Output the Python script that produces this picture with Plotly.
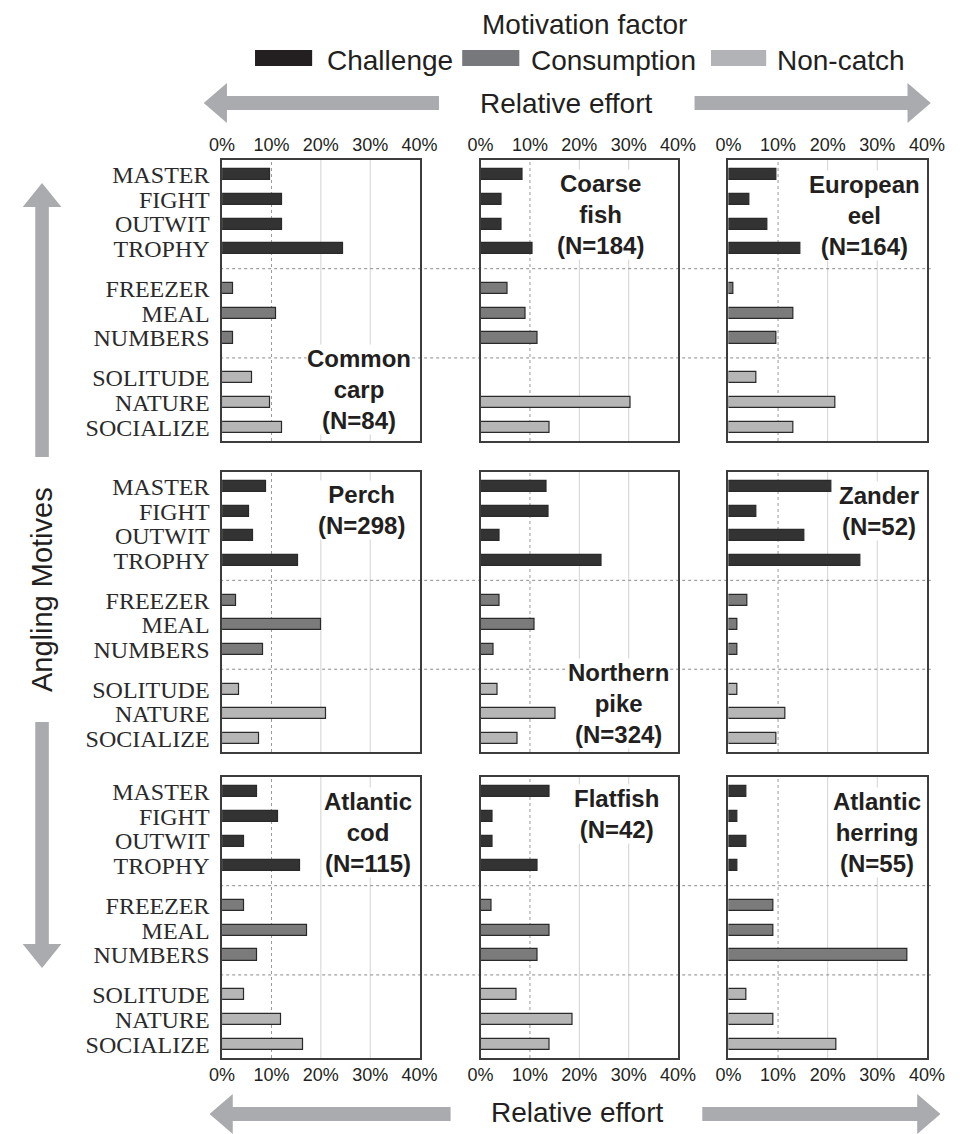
import plotly.graph_objects as go

# ---------------- data ----------------
motives = ["MASTER", "FIGHT", "OUTWIT", "TROPHY",
           "FREEZER", "MEAL", "NUMBERS",
           "SOLITUDE", "NATURE", "SOCIALIZE"]
motive_group = [0, 0, 0, 0, 1, 1, 1, 2, 2, 2]
factors = ["Challenge", "Consumption", "Non-catch"]
x_ticks = [0, 10, 20, 30, 40]
x_ticklabels = ["0%", "10%", "20%", "30%", "40%"]

species = ["Common<br>carp<br>(N=84)", "Coarse<br>fish<br>(N=184)", "European<br>eel<br>(N=164)",
           "Perch<br>(N=298)", "Northern<br>pike<br>(N=324)", "Zander<br>(N=52)",
           "Atlantic<br>cod<br>(N=115)", "Flatfish<br>(N=42)", "Atlantic<br>herring<br>(N=55)"]

common_carp      = [9.7, 12.1, 12.1, 24.5, 2.3, 11.0, 2.3, 6.1, 9.7, 12.1]
coarse_fish      = [8.6, 4.3, 4.3, 10.6, 5.4, 9.2, 11.6, 0.0, 30.3, 13.9]
european_eel     = [9.7, 4.2, 7.8, 14.6, 1.1, 13.2, 9.7, 5.6, 21.6, 13.2]
perch            = [8.9, 5.4, 6.3, 15.4, 2.8, 20.1, 8.3, 3.4, 21.1, 7.5]
northern_pike    = [13.3, 13.7, 3.9, 24.5, 3.8, 10.9, 2.7, 3.4, 15.2, 7.5]
zander           = [20.8, 5.6, 15.3, 26.6, 3.8, 1.8, 1.8, 1.8, 11.4, 9.6]
atlantic_cod     = [7.0, 11.3, 4.4, 15.7, 4.4, 17.2, 7.0, 4.4, 12.0, 16.5]
flatfish         = [14.0, 2.4, 2.4, 11.6, 2.3, 13.9, 11.6, 7.3, 18.7, 14.0]
atlantic_herring = [3.7, 1.9, 3.7, 1.9, 9.0, 9.0, 36.1, 3.7, 9.0, 21.7]

panel_values = [common_carp, coarse_fish, european_eel,
                perch, northern_pike, zander,
                atlantic_cod, flatfish, atlantic_herring]

# ---------------- styling / layout ----------------
W, H = 972, 1134
TXT = "#231f20"
bar_colors = {"Challenge": "#333333", "Consumption": "#7b7b7b", "Non-catch": "#b6b6b6"}
legend_colors = {"Challenge": "#231f20", "Consumption": "#77787b", "Non-catch": "#b1b3b6"}
ARROW = "#a9abae"
SANS = "Liberation Sans, Arial, sans-serif"
SERIF = "Liberation Serif, Times New Roman, serif"

col_px = [(216, 420), (483, 687), (739, 944)]
row_px = [(160, 441), (472, 752), (777, 1058)]
GAP = 0.62
ypos = [i + GAP * g for i, g in enumerate(motive_group)]
sep_pos = [(ypos[3] + ypos[4]) / 2, (ypos[6] + ypos[7]) / 2]
y_range = [ypos[-1] + 0.56, -0.6]

label_px = [(357, 389), (607, 214), (880, 215),
            (360, 510), (625, 703), (895, 511),
            (367, 832), (623, 814), (892, 832)]


def px(x):
    return x / W


def py(y):
    return 1 - y / H


def text_ann(x, y, text, size=28, xanchor="center", **kw):
    return dict(x=px(x), y=py(y), xref="paper", yref="paper", text=text, showarrow=False,
                xanchor=xanchor, yanchor="middle", font=dict(family=SANS, size=size, color=TXT), **kw)


fig = go.Figure()
layout = dict(width=W, height=H, margin=dict(l=0, r=0, t=0, b=0),
              plot_bgcolor="white", paper_bgcolor="white", showlegend=False,
              bargap=0)
shapes = []
annotations = []

for p in range(9):
    r, c = divmod(p, 3)
    idx = "" if p == 0 else str(p + 1)
    xa, ya = "x" + idx, "y" + idx
    vals = panel_values[p]
    for fi, f in enumerate(factors):
        sel = [k for k in range(len(motives)) if motive_group[k] == fi]
        fig.add_trace(go.Bar(
            x=[vals[k] for k in sel], y=[ypos[k] for k in sel], orientation="h",
            width=0.45, marker=dict(color=bar_colors[f], line=dict(color="#2a2a2a", width=1.2)),
            xaxis=xa, yaxis=ya, name=f, hoverinfo="x"))
    x0, x1 = col_px[c]
    y0, y1 = row_px[r]
    xaxis = dict(domain=[px(x0), px(x1)], range=[0, 40], anchor=ya,
                 tickvals=x_ticks, ticktext=x_ticklabels, showgrid=False, zeroline=False,
                 showline=True, linecolor="#3c3c3c", linewidth=1.5, mirror=True, ticks="",
                 tickfont=dict(family=SANS, size=18, color=TXT), fixedrange=True)
    if r == 0:
        xaxis.update(side="top", showticklabels=True)
    elif r == 2:
        xaxis.update(side="bottom", showticklabels=True)
    else:
        xaxis.update(showticklabels=False)
    yaxis = dict(domain=[py(y1), py(y0)], range=y_range, anchor=xa,
                 tickvals=ypos, ticktext=motives, showgrid=False, zeroline=False,
                 showline=True, linecolor="#3c3c3c", linewidth=1.5, mirror=True, ticks="",
                 showticklabels=(c == 0), ticklabelstandoff=6,
                 tickfont=dict(family=SERIF, size=24, color="#2a2a2a"), fixedrange=True)
    layout["xaxis" + idx] = xaxis
    layout["yaxis" + idx] = yaxis
    # vertical grid lines: 10% dotted, 20/30% solid light
    for gv in x_ticks[1:-1]:
        shapes.append(dict(type="line", xref=xa, yref=ya + " domain", x0=gv, x1=gv, y0=0, y1=1,
                           layer="below",
                           line=dict(color="#9a9a9a" if gv == 10 else "#d2d2d2", width=1,
                                     dash="dot" if gv == 10 else "solid")))
    # species label
    lx, ly = label_px[p]
    annotations.append(dict(x=px(lx), y=py(ly), xref="paper", yref="paper", text="<b>" + species[p] + "</b>",
                            showarrow=False, xanchor="center", yanchor="middle", bgcolor="white",
                            font=dict(family=SANS, size=24, color=TXT), borderpad=0))

# dotted separators across each row
for r in range(3):
    ya = "y" + ("" if r == 0 else str(3 * r + 1))
    for s in sep_pos:
        shapes.append(dict(type="line", xref="paper", yref=ya, x0=px(214), x1=px(948), y0=s, y1=s,
                           layer="below", line=dict(color="#8a8a8a", width=1, dash="dot")))


def harrow(tip, tail, yc, body=7, head=20, hl=24):
    d = 1 if tail > tip else -1
    b = tip + d * hl
    pts = [(tail, yc - body), (b, yc - body), (b, yc - head), (tip, yc),
           (b, yc + head), (b, yc + body), (tail, yc + body)]
    return "M " + " L ".join(f"{px(x):.5f},{py(y):.5f}" for x, y in pts) + " Z"


def varrow(tip, tail, xc, body=7, head=20, hl=24):
    d = 1 if tail > tip else -1
    b = tip + d * hl
    pts = [(xc - body, tail), (xc - body, b), (xc - head, b), (xc, tip),
           (xc + head, b), (xc + body, b), (xc + body, tail)]
    return "M " + " L ".join(f"{px(x):.5f},{py(y):.5f}" for x, y in pts) + " Z"


for path in [harrow(197, 440, 103), harrow(948, 704, 103),
             harrow(203, 452, 1114), harrow(958, 712, 1114),
             varrow(183, 457, 30), varrow(968, 722, 30)]:
    shapes.append(dict(type="path", path=path, xref="paper", yref="paper",
                       fillcolor=ARROW, line=dict(width=0)))

# legend
annotations.append(text_ann(590, 25, "Motivation factor"))
leg = [(250, 309, 322), (464, 523, 533), (721, 778, 787)]
for f, (s0, s1, tx) in zip(factors, leg):
    shapes.append(dict(type="rect", xref="paper", yref="paper", x0=px(s0), x1=px(s1),
                       y0=py(66), y1=py(50), fillcolor=legend_colors[f], line=dict(width=0)))
    annotations.append(text_ann(tx, 60, f, xanchor="left"))

annotations.append(text_ann(571, 103, "Relative effort"))
annotations.append(text_ann(583, 1112, "Relative effort"))
annotations.append(text_ann(30, 590, "Angling Motives", size=29, textangle=-90))

layout["shapes"] = shapes
layout["annotations"] = annotations
fig.update_layout(**layout)
fig.write_html("out.html", config={"displayModeBar": False},
               post_script="document.body.style.margin='0';document.body.style.overflow='hidden';")
